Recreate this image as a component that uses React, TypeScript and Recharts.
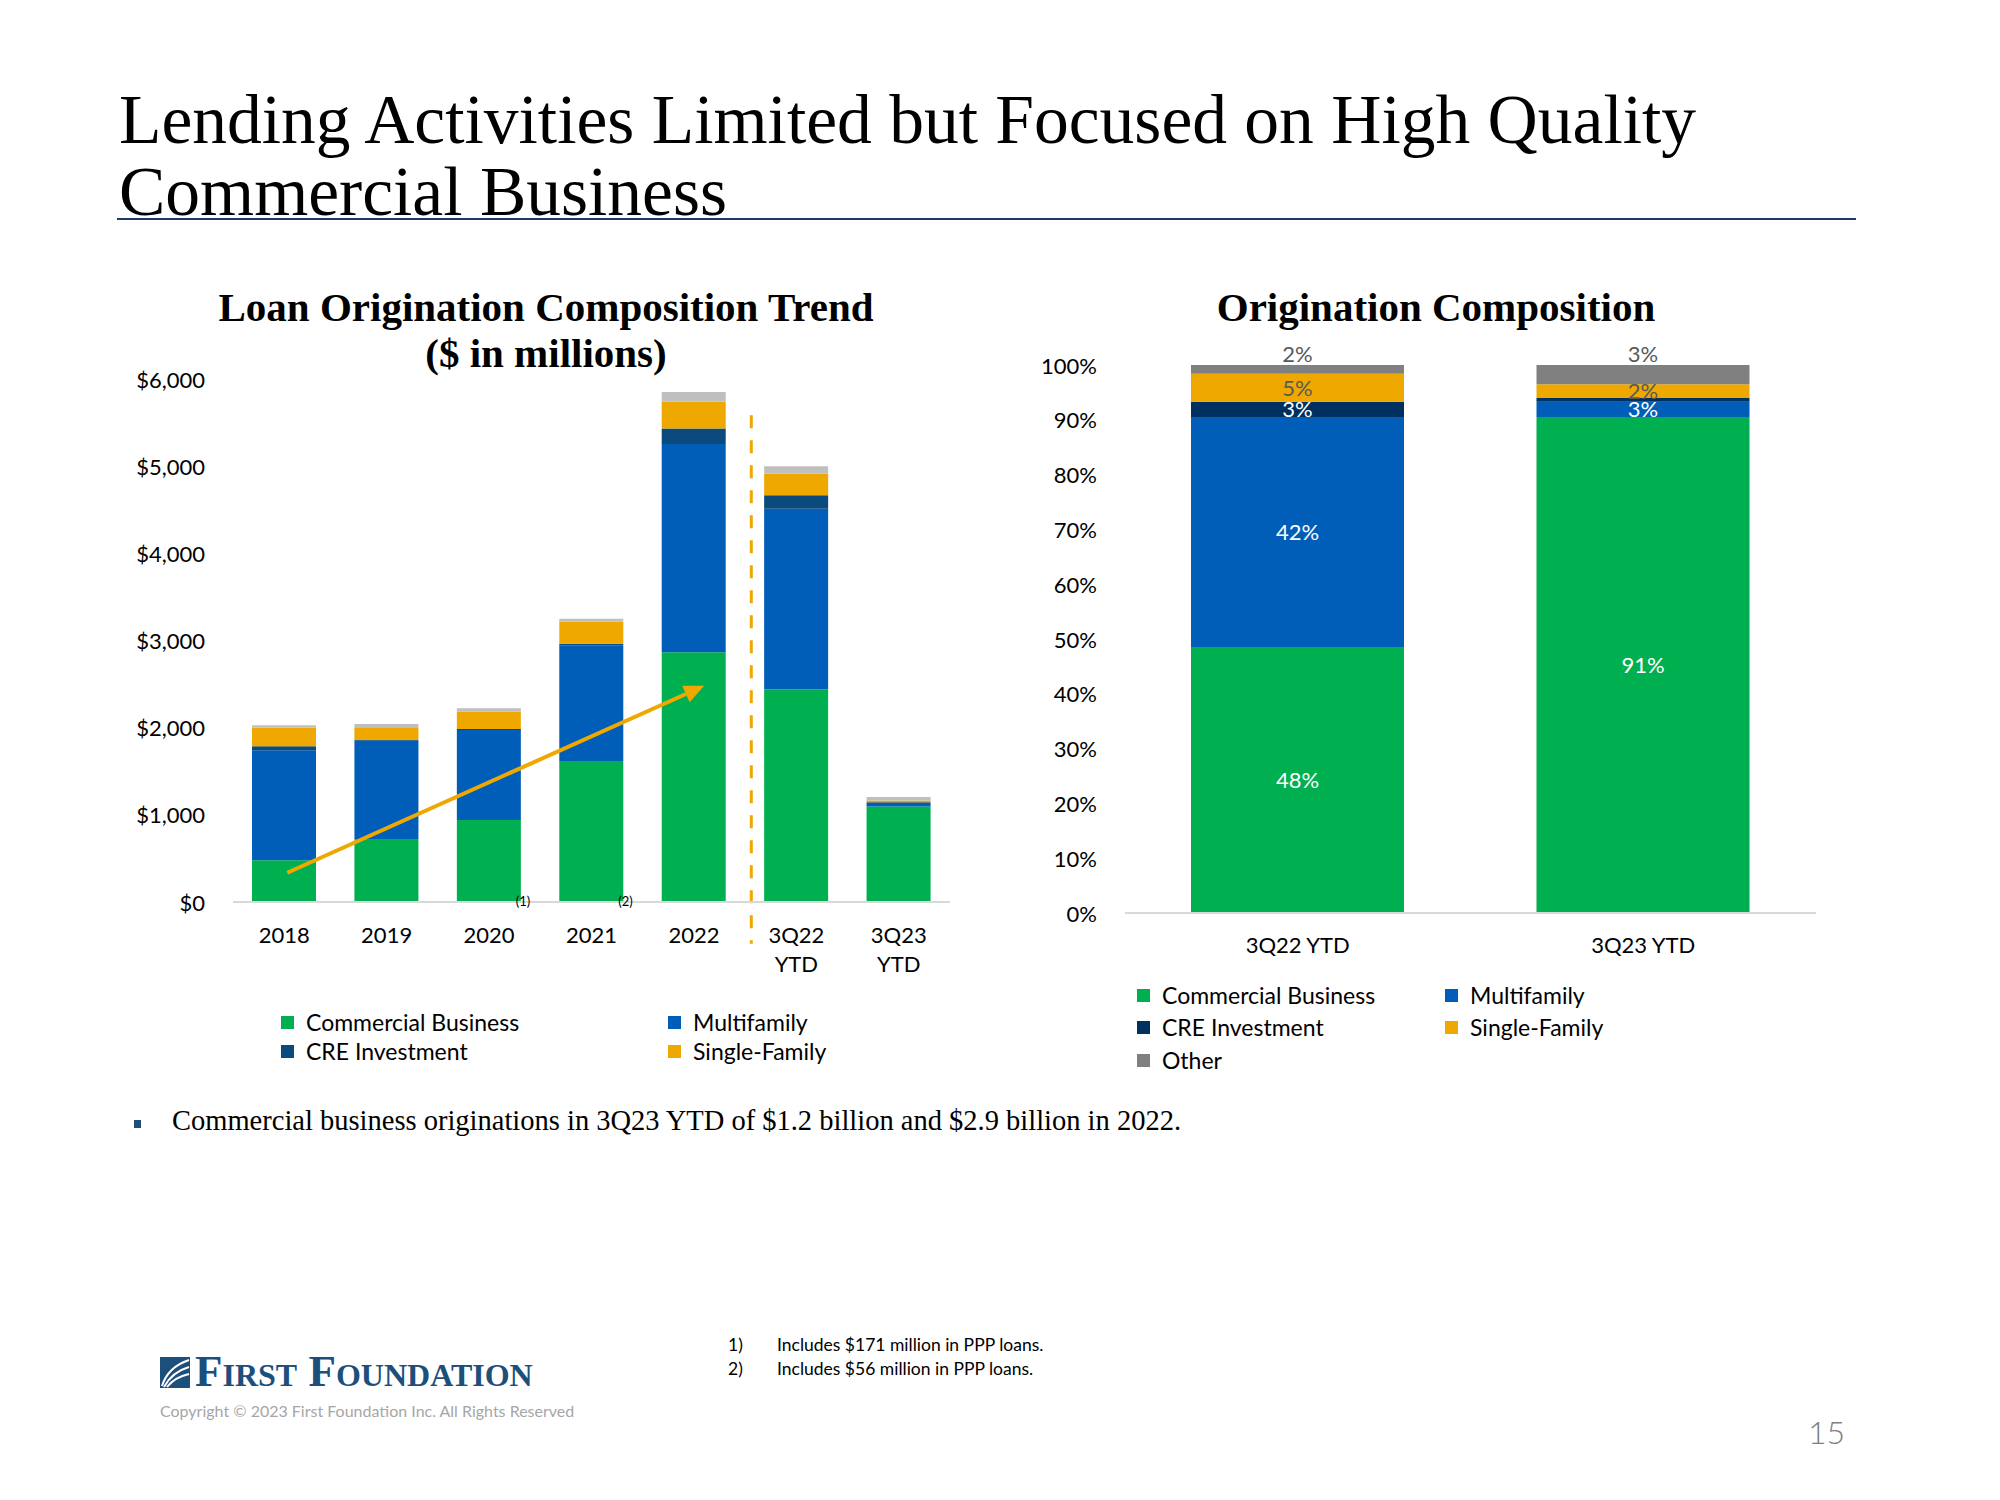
import React from 'react';
import { BarChart, Bar, XAxis, YAxis, ReferenceLine, LabelList } from 'recharts';

// Loan origination trend ($ in millions)
const categories = ['2018', '2019', '2020', '2021', '2022', '3Q22 YTD', '3Q23 YTD'];
const footnotes = ['', '', '(1)', '(2)', '', '', ''];
const commercialBusiness = [480, 723, 942, 1619, 2865, 2440, 1096];
const multifamily = [1262, 1127, 1031, 1327, 2389, 2072, 39];
const creInvestment = [46, 8, 12, 16, 177, 153, 8];
const singleFamily = [212, 138, 200, 257, 311, 247, 22];
const otherLoans = [27, 46, 38, 31, 108, 88, 39];
const dollarTicks = [0, 1000, 2000, 3000, 4000, 5000, 6000];

// Origination composition (%)
const compCategories = ['3Q22 YTD', '3Q23 YTD'];
const compCommercial = [48.4, 90.5];
const compMultifamily = [42.1, 2.8];
const compCre = [2.8, 0.7];
const compSingle = [5.1, 2.5];
const compOther = [1.6, 3.5];
const compCommercialLabels = ['48%', '91%'];
const compMultifamilyLabels = ['42%', '3%'];
const compCreLabels = ['3%', ''];
const compSingleLabels = ['5%', '2%'];
const compOtherLabels = ['2%', '3%'];
const pctTicks = [0, 10, 20, 30, 40, 50, 60, 70, 80, 90, 100];

const GREEN = '#00B050';
const BLUE = '#005EB8';
const CRE_LEFT = '#0B4A7D';
const CRE_RIGHT = '#00305F';
const GOLD = '#EEA800';
const GRAY_LIGHT = '#BFBFBF';
const GRAY_DARK = '#808080';
const SANS = 'Lato, "Open Sans", sans-serif';
const SERIF = '"Liberation Serif", "Times New Roman", serif';

const trendData = categories.map((c, i) => ({
  idx: i,
  name: c,
  cb: commercialBusiness[i],
  mf: multifamily[i],
  cre: creInvestment[i],
  sf: singleFamily[i],
  other: otherLoans[i],
}));

const compData = compCategories.map((c, i) => ({
  name: c,
  cb: compCommercial[i],
  mf: compMultifamily[i],
  cre: compCre[i],
  sf: compSingle[i],
  other: compOther[i],
  cbLabel: compCommercialLabels[i],
  mfLabel: compMultifamilyLabels[i],
  creLabel: compCreLabels[i],
  sfLabel: compSingleLabels[i],
  otherLabel: compOtherLabels[i],
}));

const TrendTick = (props: any) => {
  const { x, y, payload } = props;
  const i = payload.value as number;
  const lines = (categories[i] || '').split(' ');
  return (
    <g>
      {lines.map((l, k) => (
        <text key={k} x={x} y={y + 41 + k * 29} textAnchor="middle" fontSize={22} fontFamily={SANS} fill="#000">
          {l}
        </text>
      ))}
      {footnotes[i] && (
        <text x={x + 34} y={y + 4} textAnchor="middle" fontSize={13} fontFamily={SANS} fill="#000">
          {footnotes[i]}
        </text>
      )}
    </g>
  );
};

const CompTick = (props: any) => {
  const { x, y, payload } = props;
  return (
    <text x={x} y={y + 40} textAnchor="middle" fontSize={22} fontFamily={SANS} fill="#000">
      {payload.value}
    </text>
  );
};

const YTick = (props: any) => {
  const { x, y, payload, fmt } = props;
  return (
    <text x={x - 28} y={y} textAnchor="end" dominantBaseline="central" fontSize={22} fontFamily={SANS} fill="#000">
      {fmt(payload.value)}
    </text>
  );
};

const ArrowShape = (p: any) => {
  const { x1, y1, x2, y2 } = p;
  const ang = Math.atan2(y2 - y1, x2 - x1);
  const len = 20;
  const half = 9;
  const bx = x2 - len * Math.cos(ang);
  const by = y2 - len * Math.sin(ang);
  const px = -Math.sin(ang) * half;
  const py = Math.cos(ang) * half;
  return (
    <g>
      <line x1={x1} y1={y1} x2={bx} y2={by} stroke={GOLD} strokeWidth={4} />
      <polygon points={`${x2},${y2} ${bx + px},${by + py} ${bx - px},${by - py}`} fill={GOLD} />
    </g>
  );
};

const LegendItem = ({ color, label, x, y }: { color: string; label: string; x: number; y: number }) => (
  <div style={{ position: 'absolute', left: x, top: y - 14, height: 28, display: 'flex', alignItems: 'center', fontFamily: SANS, fontSize: 23, color: '#000', whiteSpace: 'nowrap' }}>
    <span style={{ display: 'inline-block', width: 13, height: 13, background: color, marginRight: 12 }} />
    {label}
  </div>
);

const Logo = () => (
  <div style={{ position: 'absolute', left: 160, top: 1354, display: 'flex', alignItems: 'flex-end' }}>
    <svg width={30} height={31} style={{ marginRight: 5 }}>
      <rect x={0} y={0} width={30} height={31} fill="#1D4F7C" />
      <path d="M2 29 Q8 10 29 3" stroke="#fff" strokeWidth={2} fill="none" />
      <path d="M4 30 Q12 15 29 10" stroke="#fff" strokeWidth={2} fill="none" />
      <path d="M7 30 Q15 20 29 17" stroke="#fff" strokeWidth={2} fill="none" />
    </svg>
    <div style={{ fontFamily: SERIF, fontWeight: 'bold', fontSize: 45, lineHeight: '34px', fontVariant: 'small-caps', color: '#1D4F7C', whiteSpace: 'nowrap' }}>
      First Foundation
    </div>
  </div>
);

const App: React.FC = () => {
  return (
    <div style={{ position: 'absolute', left: 0, top: 0, width: 2000, height: 1500, background: '#fff', overflow: 'hidden' }}>
      {/* slide title */}
      <div style={{ position: 'absolute', left: 119, top: 84, fontFamily: SERIF, fontSize: 69.5, lineHeight: '72px', color: '#000', whiteSpace: 'nowrap' }}>
        Lending Activities Limited but Focused on High Quality
        <br />
        Commercial Business
      </div>
      <div style={{ position: 'absolute', left: 117, top: 218, width: 1739, height: 2, background: '#1F3864' }} />

      {/* left chart */}
      <div style={{ position: 'absolute', left: 130, top: 330 }}>
        <BarChart width={860} height={700} data={trendData} margin={{ top: 49, right: 40, bottom: 8, left: 28 }}>
          <XAxis
            dataKey="idx"
            type="number"
            domain={[-0.5, 6.5]}
            ticks={[0, 1, 2, 3, 4, 5, 6]}
            allowDecimals
            tick={<TrendTick />}
            tickSize={0}
            tickMargin={0}
            tickLine={false}
            axisLine={{ stroke: '#D9D9D9', strokeWidth: 2 }}
            height={120}
          />
          <YAxis
            domain={[0, 6000]}
            ticks={dollarTicks}
            width={75}
            axisLine={false}
            tickLine={false}
            tickSize={0}
            tickMargin={0}
            tick={<YTick fmt={(v: number) => `$${v.toLocaleString('en-US')}`} />}
          />
          <Bar dataKey="cb" stackId="a" fill={GREEN} barSize={64} isAnimationActive={false} />
          <Bar dataKey="mf" stackId="a" fill={BLUE} barSize={64} isAnimationActive={false} />
          <Bar dataKey="cre" stackId="a" fill={CRE_LEFT} barSize={64} isAnimationActive={false} />
          <Bar dataKey="sf" stackId="a" fill={GOLD} barSize={64} isAnimationActive={false} />
          <Bar dataKey="other" stackId="a" fill={GRAY_LIGHT} barSize={64} isAnimationActive={false} />
          <ReferenceLine
            segment={[{ x: 4.56, y: 5585 }, { x: 4.56, y: -480 }]}
            stroke={GOLD}
            strokeWidth={3}
            strokeDasharray="13 12"
            ifOverflow="visible"
          />
          <ReferenceLine
            segment={[{ x: 0.03, y: 335 }, { x: 4.1, y: 2480 }]}
            ifOverflow="visible"
            shape={(p: any) => <ArrowShape {...p} />}
          />
        </BarChart>
      </div>

      {/* left chart title */}
      <div style={{ position: 'absolute', left: 146, width: 800, top: 284, textAlign: 'center', fontFamily: SERIF, fontWeight: 'bold', fontSize: 41, lineHeight: '46px', color: '#000' }}>
        Loan Origination Composition Trend
        <br />
        ($ in millions)
      </div>

      <LegendItem color={GREEN} label="Commercial Business" x={281} y={1022} />
      <LegendItem color={CRE_LEFT} label="CRE Investment" x={281} y={1051} />
      <LegendItem color={BLUE} label="Multifamily" x={668} y={1022} />
      <LegendItem color={GOLD} label="Single-Family" x={668} y={1051} />

      {/* right chart */}
      <div style={{ position: 'absolute', left: 1020, top: 330 }}>
        <BarChart width={820} height={640} data={compData} margin={{ top: 35, right: 24, bottom: 7, left: 25 }} barCategoryGap="19%">
          <XAxis
            dataKey="name"
            tick={<CompTick />}
            tickSize={0}
            tickMargin={0}
            tickLine={false}
            axisLine={{ stroke: '#D9D9D9', strokeWidth: 2 }}
            height={50}
          />
          <YAxis
            domain={[0, 100]}
            ticks={pctTicks}
            width={80}
            axisLine={false}
            tickLine={false}
            tickSize={0}
            tickMargin={0}
            tick={<YTick fmt={(v: number) => `${v}%`} />}
          />
          <Bar dataKey="cb" stackId="p" fill={GREEN} barSize={213} isAnimationActive={false}>
            <LabelList dataKey="cbLabel" position="center" fill="#fff" fontSize={22} fontFamily={SANS} />
          </Bar>
          <Bar dataKey="mf" stackId="p" fill={BLUE} barSize={213} isAnimationActive={false}>
            <LabelList dataKey="mfLabel" position="center" fill="#fff" fontSize={22} fontFamily={SANS} />
          </Bar>
          <Bar dataKey="cre" stackId="p" fill={CRE_RIGHT} barSize={213} isAnimationActive={false}>
            <LabelList dataKey="creLabel" position="center" fill="#fff" fontSize={22} fontFamily={SANS} />
          </Bar>
          <Bar dataKey="sf" stackId="p" fill={GOLD} barSize={213} isAnimationActive={false}>
            <LabelList dataKey="sfLabel" position="center" fill="#595959" fontSize={22} fontFamily={SANS} />
          </Bar>
          <Bar dataKey="other" stackId="p" fill={GRAY_DARK} barSize={213} isAnimationActive={false}>
            <LabelList dataKey="otherLabel" position="top" offset={3} fill="#595959" fontSize={22} fontFamily={SANS} />
          </Bar>
        </BarChart>
      </div>

      <div style={{ position: 'absolute', left: 1036, width: 800, top: 284, textAlign: 'center', fontFamily: SERIF, fontWeight: 'bold', fontSize: 41, lineHeight: '46px', color: '#000' }}>
        Origination Composition
      </div>

      <LegendItem color={GREEN} label="Commercial Business" x={1137} y={995} />
      <LegendItem color={CRE_RIGHT} label="CRE Investment" x={1137} y={1027} />
      <LegendItem color={GRAY_DARK} label="Other" x={1137} y={1060} />
      <LegendItem color={BLUE} label="Multifamily" x={1445} y={995} />
      <LegendItem color={GOLD} label="Single-Family" x={1445} y={1027} />

      {/* bullet */}
      <div style={{ position: 'absolute', left: 134, top: 1120, width: 7, height: 8, background: '#1F4E79' }} />
      <div style={{ position: 'absolute', left: 172, top: 1104, fontFamily: SERIF, fontSize: 28.5, lineHeight: '34px', color: '#000', whiteSpace: 'nowrap' }}>
        Commercial business originations in 3Q23 YTD of $1.2 billion and $2.9 billion in 2022.
      </div>

      {/* footnotes */}
      <div style={{ position: 'absolute', left: 728, top: 1333, fontFamily: SANS, fontSize: 17.5, lineHeight: '24px', color: '#000' }}>
        <div><span style={{ display: 'inline-block', width: 49 }}>1)</span>Includes $171 million in PPP loans.</div>
        <div><span style={{ display: 'inline-block', width: 49 }}>2)</span>Includes $56 million in PPP loans.</div>
      </div>

      <Logo />
      <div style={{ position: 'absolute', left: 160, top: 1401, fontFamily: SANS, fontSize: 16, color: '#A6A6A6', whiteSpace: 'nowrap' }}>
        Copyright © 2023 First Foundation Inc. All Rights Reserved
      </div>
      <div style={{ position: 'absolute', left: 1808, top: 1412, fontFamily: SANS, fontSize: 32, fontWeight: 300, color: '#7F7F7F' }}>
        15
      </div>
    </div>
  );
};

export default App;
